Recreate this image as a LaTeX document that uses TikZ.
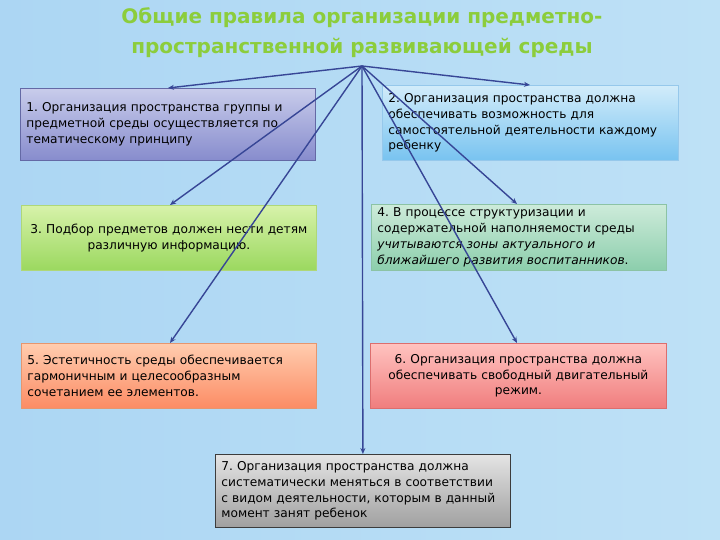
\documentclass[tikz,border=0pt]{standalone}
\usepackage{fontspec}
\setmainfont{DejaVu Sans}
\usetikzlibrary{arrows.meta}
\definecolor{titlegreen}{RGB}{140,205,60}
\definecolor{arrowblue}{RGB}{55,70,150}
\tikzset{
  card/.style={draw, line width=0.8pt, anchor=north west, inner xsep=6pt, inner ysep=3pt, font=\fontsize{12.2}{15.8}\selectfont, text=black},
  conn/.style={draw=arrowblue, line width=1.4pt, -{Stealth[length=6pt,width=5pt]}},
}
\begin{document}
\frenchspacing
\begin{tikzpicture}[x=1pt,y=-1pt]
\useasboundingbox (0,0) rectangle (720,540);
\shade[left color={rgb,255:red,172;green,214;blue,243}, middle color={rgb,255:red,240;green,247;blue,252}, right color={rgb,255:red,190;green,225;blue,246}] (0,0) rectangle (720,540);

\node[font=\bfseries\fontsize{20}{30}\selectfont, text=titlegreen, align=center] (title) at (362,33)
 {Общие правила организации предметно-\\пространственной развивающей среды};
\coordinate (hub) at (362,66);

\node[card, draw={rgb,255:red,100;green,105;blue,165}, top color={rgb,255:red,200;green,204;blue,235}, bottom color={rgb,255:red,135;green,140;blue,205}, minimum width=295, minimum height=72, text width=283, align=left] (b1) at (20,88)
 {1. Организация пространства группы и\\предметной среды осуществляется по\\тематическому принципу};

\node[card, draw={rgb,255:red,150;green,200;blue,235}, top color={rgb,255:red,210;green,236;blue,250}, bottom color={rgb,255:red,120;green,195;blue,240}, minimum width=296, minimum height=75, text width=284, align=left] (b2) at (382,85)
 {2. Организация пространства должна\\обеспечивать возможность для\\самостоятельной деятельности каждому\\ребенку};

\node[card, draw={rgb,255:red,175;green,215;blue,120}, top color={rgb,255:red,215;green,242;blue,170}, bottom color={rgb,255:red,155;green,216;blue,95}, minimum width=295, minimum height=65, text width=283, align=center] (b3) at (21,205)
 {3. Подбор предметов должен нести детям\\различную информацию.};

\node[card, draw={rgb,255:red,140;green,195;blue,165}, top color={rgb,255:red,205;green,235;blue,218}, bottom color={rgb,255:red,140;green,206;blue,172}, minimum width=295, minimum height=66, text width=283, align=left] (b4) at (371,204)
 {4. В процессе структуризации и\\содержательной наполняемости среды\\\textit{учитываются зоны актуального и}\\\textit{ближайшего развития воспитанников}.};

\node[card, draw={rgb,255:red,230;green,150;blue,110}, top color={rgb,255:red,255;green,205;blue,175}, bottom color={rgb,255:red,252;green,140;blue,100}, minimum width=295, minimum height=65, text width=283, align=left] (b5) at (21,343)
 {5. Эстетичность среды обеспечивается\\гармоничным и целесообразным\\сочетанием ее элементов.};

\node[card, draw={rgb,255:red,220;green,110;blue,110}, top color={rgb,255:red,255;green,195;blue,192}, bottom color={rgb,255:red,240;green,125;blue,125}, minimum width=296, minimum height=65, text width=284, align=center] (b6) at (370,343)
 {6. Организация пространства должна\\обеспечивать свободный двигательный\\режим.};

\node[card, draw={rgb,255:red,60;green,60;blue,60}, top color={rgb,255:red,228;green,228;blue,228}, bottom color={rgb,255:red,160;green,160;blue,160}, minimum width=295, minimum height=73, text width=283, align=left] (b7) at (215,454)
 {7. Организация пространства должна\\систематически меняться в соответствии\\с видом деятельности, которым в данный\\момент занят ребенок};

\draw[conn] (hub) -- ([xshift=148pt]b1.north west);
\draw[conn] (hub) -- ([xshift=148pt]b2.north west);
\draw[conn] (hub) -- ([xshift=149pt]b3.north west);
\draw[conn] (hub) -- ([xshift=146pt]b4.north west);
\draw[conn] (hub) -- ([xshift=149pt]b5.north west);
\draw[conn] (hub) -- ([xshift=147pt]b6.north west);
\draw[conn] (hub) -- (b7.north);
\end{tikzpicture}
\end{document}
